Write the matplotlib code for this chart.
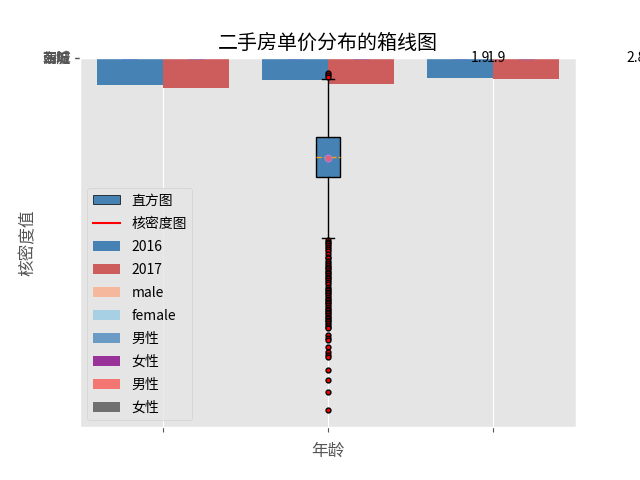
import matplotlib
matplotlib.use('Agg')
import matplotlib.pyplot as plt
from matplotlib.patches import Patch
from matplotlib.lines import Line2D
import numpy as np

plt.style.use('ggplot')
plt.rcParams['font.family'] = ['Noto Sans CJK SC', 'DejaVu Sans']
plt.rcParams['axes.unicode_minus'] = False

# ---- data ----
groups = [0, 1, 2]
group_labels = ['', '', '']
values_2016 = [7400, 6100, 5400]
values_2017 = [8100, 7100, 5700]

ytick_values = [0, 10, 20, 30]
ytick_labels = ['东城', '西城', '朝阳', '海淀']

label_x = [1.92, 2.02, 2.865]
label_text = ['1.9', '1.9', '2.8']

box_q1 = 21600
box_med = 27000
box_q3 = 32400
box_mean = 27200
box_whislo = 5900
box_whishi = 48900
box_fliers = [4100, 4700, 5200,
              49300, 49800, 50200, 50700, 51200, 51800, 52400, 53100, 53900,
              54300, 55000, 55600, 56100, 56600, 57000, 57500, 57900, 58400,
              58800, 59300, 59700, 60200, 60600, 61300, 62000, 62500, 62900,
              63400, 63800, 64300, 64700, 65200, 65600, 66000, 66500, 67000,
              67400, 67900, 68300, 68800, 69200, 69700, 70100, 70500, 71000,
              71400, 71900, 72300, 72800, 73200, 75100, 75900, 76400, 78200,
              79600, 80500, 80900, 84500, 87200, 90600, 95400]

legend_labels = ['直方图', '核密度图', '2016', '2017', 'male', 'female',
                 '男性', '女性', '男性', '女性']
legend_colors = ['steelblue', 'red', 'steelblue', 'indianred', '#F5B89C',
                 '#A8D0E4', '#6B9BC4', '#993399', '#F47673', '#707070']

# ---- plot ----
fig, ax = plt.subplots(figsize=(6.4, 4.8), dpi=100)
x = np.array(groups, dtype=float)
w = 0.4
ax.bar(x - w / 2, values_2016, width=w, color='steelblue', edgecolor='none')
ax.bar(x + w / 2, values_2017, width=w, color='indianred', edgecolor='none')
ax.errorbar(np.concatenate([x - w / 2, x + w / 2]), np.zeros(6), yerr=0,
            fmt='none', ecolor='#3b3bd6', capsize=6, elinewidth=1)

stats = [dict(med=box_med, q1=box_q1, q3=box_q3, whislo=box_whislo,
              whishi=box_whishi, mean=box_mean, fliers=np.array(box_fliers))]
ax.bxp(stats, positions=[1], widths=0.15, patch_artist=True, showmeans=True,
       boxprops=dict(facecolor='steelblue', edgecolor='black', linewidth=1),
       medianprops=dict(color='orange', linestyle='--', linewidth=1),
       meanprops=dict(marker='o', markerfacecolor='#e0607a',
                      markeredgecolor='#a080d0', markersize=5),
       flierprops=dict(marker='o', markerfacecolor='red',
                       markeredgecolor='black', markersize=3.5),
       whiskerprops=dict(color='black'), capprops=dict(color='black'))

for xp, t in zip(label_x, label_text):
    ax.text(xp, 0, t, ha='center', va='center', fontsize=10, color='black')

ax.set_xlim(-0.5, 2.5)
ax.set_ylim(100000, 0)
ax.set_xticks(groups)
ax.set_xticklabels(group_labels)
ax.set_yticks(ytick_values)
ax.set_yticklabels(ytick_labels)

ax.set_title('二手房单价分布的箱线图')
ax.set_xlabel('年龄')
ax.set_ylabel('核密度值')

handles = [Patch(facecolor=legend_colors[0], edgecolor='black')]
handles.append(Line2D([], [], color=legend_colors[1], linewidth=1.5))
for c in legend_colors[2:]:
    handles.append(Patch(facecolor=c))
ax.legend(handles=handles, labels=legend_labels, loc='lower left',
          labelspacing=0.65)

fig.savefig('out.png', dpi=100)
